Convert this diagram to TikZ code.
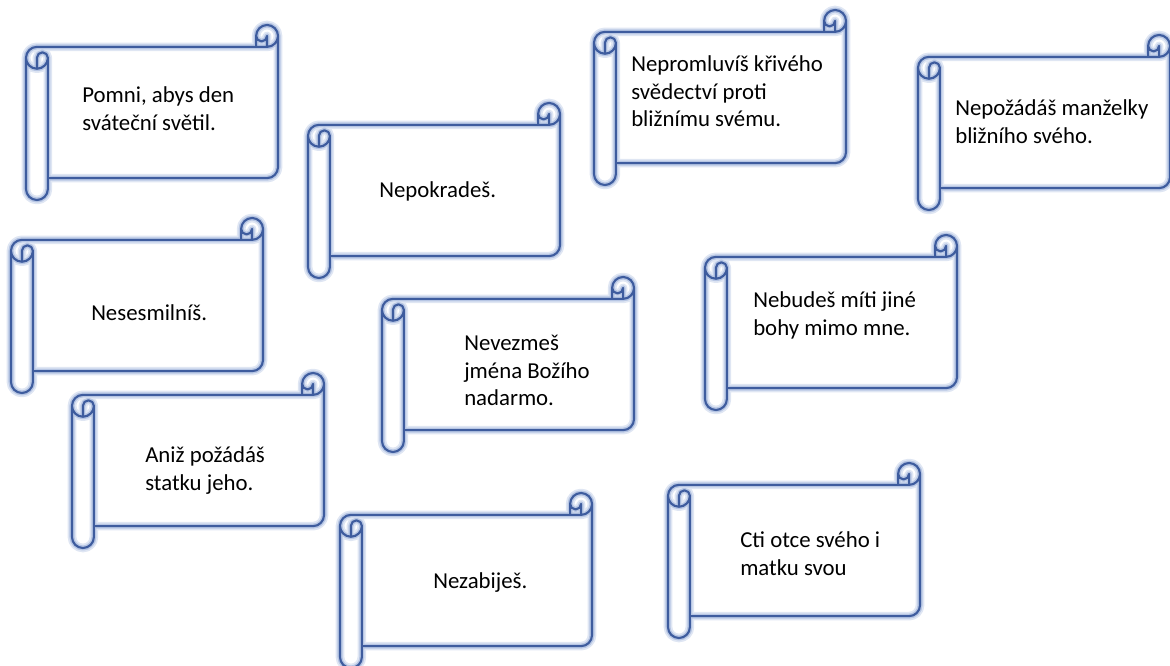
\documentclass[tikz,border=0pt]{standalone}
\usepackage{fontspec}
\setmainfont{Carlito}
\usepackage{tikz}

\definecolor{scrollblue}{RGB}{62,92,158}
\definecolor{glowblue}{RGB}{150,172,215}

\tikzset{
  glowwide/.style={draw=glowblue, line width=6.5pt, opacity=0.3, line join=round},
  glowthin/.style={draw=glowblue, line width=3.8pt, opacity=0.55, line join=round},
  scrolline/.style={draw=scrollblue, line width=1.6pt, line join=round},
  txt/.style={anchor=north west, inner sep=0pt, align=left, font=\fontsize{17.1}{20.8}\selectfont}
}

% horizontal scroll, 252 x 175, top left corner at (#1,#2)
\newcommand{\drawscroll}[2]{%
  \foreach \lay in {glowwide,glowthin,scrolline} {
    \draw [\lay, shift={(#1,#2)}] (0,32.81) arc[start angle=180, delta angle=90, radius=10.94] -- (230.13,21.88) -- (230.13,10.94) arc[start angle=180, delta angle=180, radius=10.94] -- (252,142.19) arc[start angle=0, delta angle=90, radius=10.94] -- (21.88,153.13) -- (21.88,164.06) arc[start angle=0, delta angle=180, radius=10.94] -- cycle
      (230.13,21.88) -- (241.06,21.88) arc[start angle=90, delta angle=-90, radius=10.94]
      (241.06,21.88) -- (241.06,10.94) arc[start angle=0, delta angle=180, radius=5.47]
      (10.94,43.75) -- (10.94,32.81) arc[start angle=180, delta angle=180, radius=5.47] arc[start angle=0, delta angle=180, radius=10.94]
      (21.88,32.81) -- (21.88,153.13) ;
  }}

\begin{document}
\begin{tikzpicture}[x=0.75pt,y=0.75pt,yscale=-1,xscale=1]
\useasboundingbox (0,0) rectangle (1170,666);

%Shape: Scroll
\drawscroll{26}{25}
%Shape: Scroll
\drawscroll{308}{103}
%Shape: Scroll
\drawscroll{594}{10}
%Shape: Scroll
\drawscroll{918}{35}
%Shape: Scroll
\drawscroll{11}{218}
%Shape: Scroll
\drawscroll{382}{277}
%Shape: Scroll
\drawscroll{705}{235}
%Shape: Scroll
\drawscroll{72}{373}
%Shape: Scroll
\drawscroll{340}{493}
%Shape: Scroll
\drawscroll{668}{463}


% Text Node
\node (pomni) [txt] at (82,82.6) {\strut Pomni, abys den\\sváteční světil.};
% Text Node
\node (nepokrades) [txt] at (379,177.6) {\strut Nepokradeš.};
% Text Node
\node (nepromluvis) [txt] at (631,51.6) {\strut Nepromluvíš křivého\\svědectví proti\\bližnímu svému.};
% Text Node
\node (nepozadas) [txt] at (955,95.6) {\strut Nepožádáš manželky\\bližního svého.};
% Text Node
\node (nesesmilnis) [txt] at (91,300.6) {\strut Nesesmilníš.};
% Text Node
\node (nevezmes) [txt] at (464,330.6) {\strut Nevezmeš\\jména Božího\\nadarmo.};
% Text Node
\node (nebudes) [txt] at (753,287.6) {\strut Nebudeš míti jiné\\bohy mimo mne.};
% Text Node
\node (aniz) [txt] at (145,442.6) {\strut Aniž požádáš\\statku jeho.};
% Text Node
\node (nezabijes) [txt] at (433,568.6) {\strut Nezabiješ.};
% Text Node
\node (cti) [txt] at (740,527.6) {\strut Cti otce svého i\\matku svou};

\end{tikzpicture}
\end{document}
